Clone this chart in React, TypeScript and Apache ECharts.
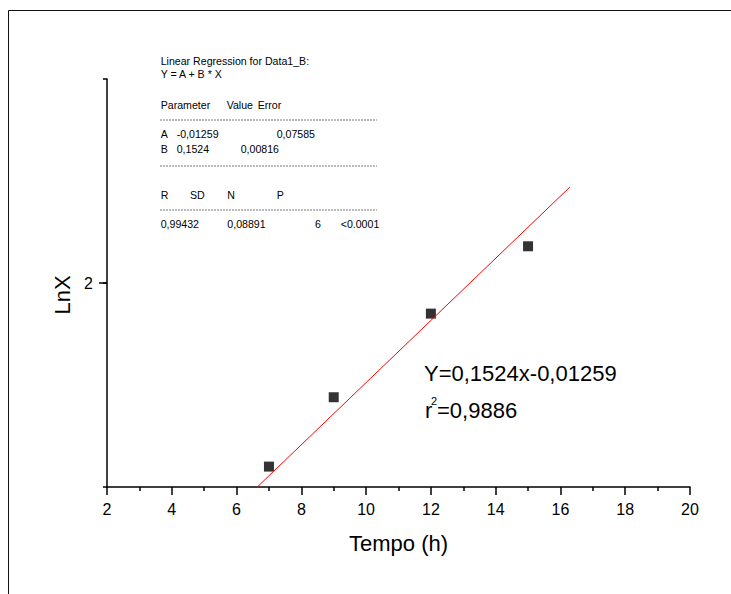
import React, { useEffect, useRef } from 'react';
import * as echarts from 'echarts';

// Data
const timeH = [7, 9, 12, 15];
const lnX = [1.1, 1.44, 1.85, 2.18];
const fitX = [6.64, 16.29];
const fitY = [1.0, 2.47];

const xAxisName = 'Tempo (h)';
const yAxisName = 'LnX';
const eqLine = 'Y=0,1524x-0,01259';
const r2Value = '=0,9886';

// Regression report text
const reportTitle = 'Linear Regression for Data1_B:';
const reportModel = 'Y = A + B * X';
const paramHeader = ['Parameter', 'Value', 'Error'];
const rowA = ['A', '-0,01259', '0,07585'];
const rowB = ['B', '0,1524', '0,00816'];
const statHeader = ['R', 'SD', 'N', 'P'];
const statValues = ['0,99432', '0,08891', '6', '<0.0001'];

const FONT = "'Liberation Sans', Arial, Helvetica, sans-serif";
const RS = 10.6; // report font size

function txt(text: string, x: number, y: number, size = RS, extra: any = {}) {
  return {
    type: 'text',
    x,
    y,
    style: {
      text,
      fontSize: size,
      fontFamily: FONT,
      fill: '#000',
      align: 'left',
      verticalAlign: 'middle',
      ...extra,
    },
  };
}

function dash(y: number) {
  return {
    type: 'line',
    shape: { x1: 160, y1: y, x2: 377, y2: y },
    style: { stroke: '#555', lineWidth: 0.8, lineDash: [2, 1] },
  };
}

export default function App() {
  const ref = useRef<HTMLDivElement>(null);

  useEffect(() => {
    const chart = echarts.init(ref.current!, null, { renderer: 'svg' });

    const axisLine = { show: true, lineStyle: { color: '#000', width: 1.5 } };
    const labelStyle = { color: '#000', fontSize: 16, fontFamily: FONT };

    const graphics: any[] = [
      // page frame (top & left)
      { type: 'line', shape: { x1: 8.5, y1: 10.5, x2: 731, y2: 10.5 }, style: { stroke: '#111', lineWidth: 1 } },
      { type: 'line', shape: { x1: 8.5, y1: 10.5, x2: 8.5, y2: 594 }, style: { stroke: '#111', lineWidth: 1 } },
      // axis names
      txt(xAxisName, 398.5, 543, 22, { align: 'center' }),
      { ...txt(yAxisName, 62.5, 295, 22, { align: 'center' }), rotation: Math.PI / 2 },
      // equation
      txt(eqLine, 424, 373, 22),
      txt('r', 425, 410.5, 22),
      txt('2', 431, 401, 11),
      txt(r2Value, 437, 410.5, 22),
      // regression report
      txt(reportTitle, 160.7, 60.7),
      txt(reportModel, 160.7, 74.3),
      txt(paramHeader[0], 160.7, 105),
      txt(paramHeader[1], 226.7, 105),
      txt(paramHeader[2], 257.7, 105),
      dash(120),
      txt(rowA[0], 160.7, 134),
      txt(rowA[1], 176.7, 134),
      txt(rowA[2], 276.7, 134),
      txt(rowB[0], 160.7, 149.3),
      txt(rowB[1], 176.7, 149.3),
      txt(rowB[2], 240.7, 149.3),
      dash(166),
      txt(statHeader[0], 160.7, 195.3),
      txt(statHeader[1], 190, 195.3),
      txt(statHeader[2], 227.3, 195.3),
      txt(statHeader[3], 276.7, 195.3),
      dash(210),
      txt(statValues[0], 160.7, 224),
      txt(statValues[1], 227.3, 224),
      txt(statValues[2], 315, 224),
      txt(statValues[3], 340.7, 224),
    ];

    chart.setOption({
      animation: false,
      backgroundColor: '#fff',
      grid: { left: 107, right: 41, top: 79, bottom: 107, containLabel: false },
      xAxis: {
        type: 'value',
        min: 2,
        max: 20,
        interval: 2,
        axisLine,
        axisTick: { show: true, length: 8, lineStyle: { color: '#000', width: 1.5 } },
        minorTick: { show: true, splitNumber: 2, length: 4, lineStyle: { color: '#000', width: 1.5 } },
        axisLabel: { ...labelStyle, margin: 14 },
        splitLine: { show: false },
        minorSplitLine: { show: false },
      },
      yAxis: [
        {
          type: 'value',
          position: 'left',
          min: 1,
          max: 3,
          interval: 1,
          axisLine,
          axisTick: { show: true, length: 4, lineStyle: { color: '#000', width: 1.5 } },
          axisLabel: { show: false },
          splitLine: { show: false },
        },
        {
          type: 'value',
          position: 'left',
          min: 1,
          max: 3,
          interval: 1,
          axisLine: { show: false },
          axisTick: { show: true, length: 8, customValues: [2], lineStyle: { color: '#000', width: 1.5 } },
          axisLabel: { ...labelStyle, margin: 14, customValues: [2] },
          splitLine: { show: false },
        },
      ],
      series: [
        {
          type: 'line',
          yAxisIndex: 0,
          data: fitX.map((x, i) => [x, fitY[i]]),
          symbol: 'none',
          lineStyle: { color: '#ff0000', width: 1 },
          silent: true,
        },
        {
          type: 'scatter',
          yAxisIndex: 0,
          data: timeH.map((x, i) => [x, lnX[i]]),
          symbol: 'rect',
          symbolSize: 10,
          itemStyle: { color: '#000' },
        },
      ],
      graphic: graphics,
    });

    return () => chart.dispose();
  }, []);

  return (
    <div
      ref={ref}
      style={{ position: 'absolute', left: 0, top: 0, width: 731, height: 594, background: '#fff' }}
    />
  );
}
